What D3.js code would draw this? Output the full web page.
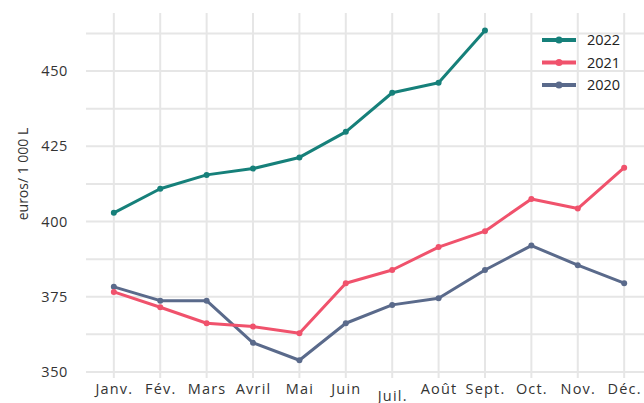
<!DOCTYPE html>
<html>
<head>
<meta charset="utf-8">
<script src="https://cdn.jsdelivr.net/npm/d3@7"></script>
<style>
  html, body { margin: 0; padding: 0; background: #fff; }
  svg { display: block; font-family: "Open Sans", sans-serif; }
</style>
</head>
<body>
<div id="chart"></div>
<script>
// Chart data
const months = ['Janv.', 'Fév.', 'Mars', 'Avril', 'Mai', 'Juin', 'Juil.', 'Août', 'Sept.', 'Oct.', 'Nov.', 'Déc.'];
const values2022 = [402.9, 410.9, 415.5, 417.6, 421.3, 429.8, 442.8, 446.1, 463.5];
const values2021 = [376.6, 371.5, 366.2, 365.1, 362.9, 379.5, 383.9, 391.5, 396.8, 407.5, 404.3, 417.9];
const values2020 = [378.3, 373.7, 373.7, 359.7, 353.9, 366.2, 372.3, 374.5, 383.9, 392.0, 385.5, 379.5];
const yTicks = [350, 375, 400, 425, 450];
const yMinorTicks = [362.5, 387.5, 412.5, 437.5, 462.5];
const seriesNames = ['2022', '2021', '2020'];

const series = [
  { name: seriesNames[0], values: values2022, color: '#16807a' },
  { name: seriesNames[1], values: values2021, color: '#f0526c' },
  { name: seriesNames[2], values: values2020, color: '#5a6a8b' }
];

const width = 644, height = 403;
const margin = { top: 13, right: -8, bottom: 25, left: 86 };
const innerWidth = width - margin.left - margin.right;
const innerHeight = height - margin.top - margin.bottom;

const svg = d3.select('#chart').append('svg')
  .attr('width', width)
  .attr('height', height);

// Title, almost entirely cut off at the top edge in the reference
svg.append('text')
  .attr('x', 40)
  .attr('y', -3)
  .style('font-size', '15px')
  .style('font-weight', '700')
  .style('fill', '#222')
  .text('Prix moyen du lait payé aux producteurs');

const g = svg.append('g').attr('transform', `translate(${margin.left},${margin.top})`);

const x = d3.scalePoint().domain(months).range([0, innerWidth]).padding(0.6);
const y = d3.scaleLinear().domain([348, 469.3]).range([innerHeight, 0]);

// Grid
const gridColor = '#e6e6e6';
g.append('g').selectAll('line.h')
  .data(yTicks.concat(yMinorTicks))
  .join('line')
  .attr('x1', 0).attr('x2', innerWidth)
  .attr('y1', d => y(d)).attr('y2', d => y(d))
  .style('stroke', gridColor).style('stroke-width', 2);

g.append('g').selectAll('line.v')
  .data(months)
  .join('line')
  .attr('x1', d => x(d)).attr('x2', d => x(d))
  .attr('y1', 0).attr('y2', innerHeight)
  .style('stroke', gridColor).style('stroke-width', 2);

// Axes
g.append('g')
  .call(d3.axisLeft(y).tickValues(yTicks).tickSize(0).tickPadding(18))
  .call(a => {
    a.select('.domain').remove();
    a.selectAll('text')
      .style('font-size', '14.5px').style('fill', '#333')
      .style('letter-spacing', '0.6px')
      .style('font-family', '"Open Sans", sans-serif');
  });

g.append('g')
  .attr('transform', `translate(0,${innerHeight})`)
  .call(d3.axisBottom(x).tickSize(0).tickPadding(6))
  .call(a => {
    a.select('.domain').remove();
    a.selectAll('text')
      .style('font-size', '14.5px').style('fill', '#333')
      .style('letter-spacing', '1.2px')
      .style('font-family', '"Open Sans", sans-serif')
      .attr('dy', d => d === 'Juil.' ? '1.15em' : '0.71em');
  });

// Y axis title
svg.append('text')
  .attr('transform', 'translate(28,174) rotate(-90)')
  .attr('text-anchor', 'middle')
  .style('font-size', '14px')
  .style('fill', '#333')
  .text('euros/ 1 000 L');

// Lines
const line = d3.line()
  .x((d, i) => x(months[i]))
  .y(d => y(d));

const gSeries = g.append('g');
series.slice().reverse().forEach(s => {
  gSeries.append('path')
    .datum(s.values)
    .attr('d', line)
    .style('fill', 'none')
    .style('stroke', s.color)
    .style('stroke-width', 3)
    .style('stroke-linejoin', 'round');
  gSeries.selectAll(null)
    .data(s.values)
    .join('circle')
    .attr('cx', (d, i) => x(months[i]))
    .attr('cy', d => y(d))
    .attr('r', 3)
    .style('fill', s.color);
});

// Legend
const legend = svg.append('g').attr('transform', 'translate(542,40)');
series.forEach((s, i) => {
  const row = legend.append('g').attr('transform', `translate(0,${i * 22.5})`);
  row.append('line')
    .attr('x1', 0).attr('x2', 34)
    .attr('y1', 0).attr('y2', 0)
    .style('stroke', s.color).style('stroke-width', 4);
  row.append('circle').attr('cx', 17).attr('cy', 0).attr('r', 3.5).style('fill', s.color);
  row.append('text')
    .attr('x', 45).attr('y', 0).attr('dy', '0.35em')
    .style('font-size', '14.5px').style('fill', '#222')
    .text(s.name);
});
</script>
</body>
</html>
